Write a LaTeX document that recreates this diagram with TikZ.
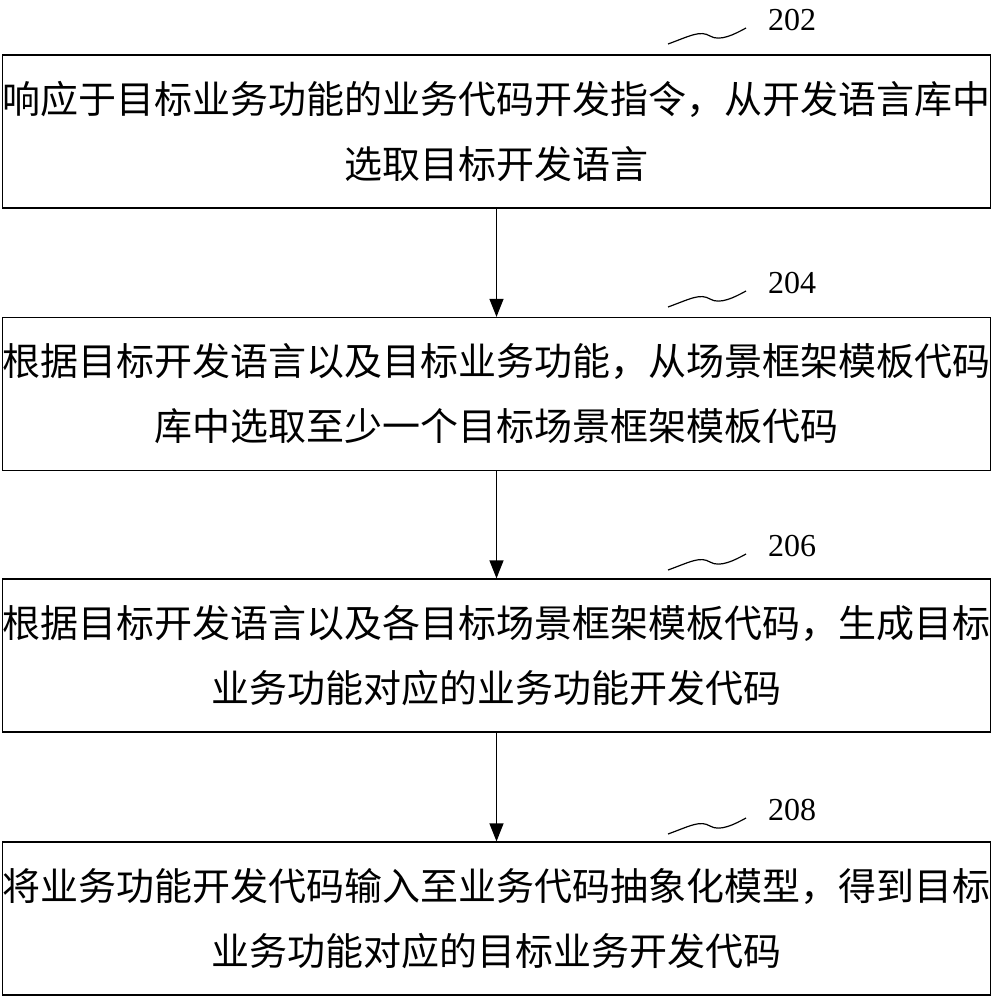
\documentclass[tikz,border=0pt]{standalone}
\usepackage{fontspec}
\setmainfont{Liberation Serif}
\newfontfamily\cjk{Noto Sans CJK SC}
\usetikzlibrary{arrows.meta}
\begin{document}
\begin{tikzpicture}[x=1pt,y=-1pt,
  stepbox/.style={draw,line width=1.2pt,minimum width=983pt,minimum height=153pt,align=center,inner sep=0pt,font=\cjk\fontsize{38}{65}\selectfont},
  arr/.style={-{Triangle[length=18pt,width=14pt]},line width=1.2pt},
  lab/.style={font=\fontsize{32}{32}\selectfont}]
\useasboundingbox (0,0) rectangle (993,1000);
\node[stepbox] (b1) at (496.5,131.5) {响应于目标业务功能的业务代码开发指令，从开发语言库中\\选取目标开发语言};
\node[stepbox] (b2) at (496.5,394) {根据目标开发语言以及目标业务功能，从场景框架模板代码\\库中选取至少一个目标场景框架模板代码};
\node[stepbox] (b3) at (496.5,655.5) {根据目标开发语言以及各目标场景框架模板代码，生成目标\\业务功能对应的业务功能开发代码};
\node[stepbox] (b4) at (496.5,918.5) {将业务功能开发代码输入至业务代码抽象化模型，得到目标\\业务功能对应的目标业务开发代码};
\draw[arr] (b1) -- (b2);
\draw[arr] (b2) -- (b3);
\draw[arr] (b3) -- (b4);
\foreach \n/\y in {202/0,204/263,206/526,208/790}{
  \node[lab] (l\n) at (792,20+\y) {\n};
  \draw[line width=1.2pt] (668,44+\y) .. controls (690,36+\y) and (700,30+\y) .. (710,36+\y) .. controls (720,42+\y) and (735,34+\y) .. (746,28+\y);
}
\end{tikzpicture}
\end{document}
